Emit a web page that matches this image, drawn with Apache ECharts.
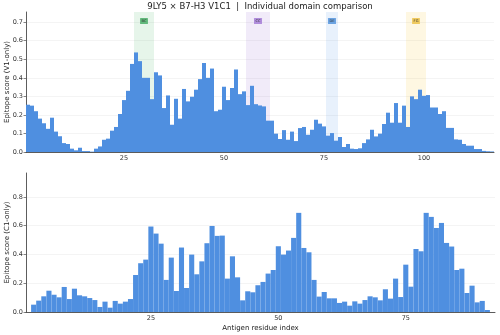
<!DOCTYPE html>
<html>
<head>
<meta charset="utf-8">
<script src="https://cdn.jsdelivr.net/npm/echarts@6/dist/echarts.min.js"></script>
<style>
  html, body { margin: 0; padding: 0; background: #fff; }
  #main { width: 500px; height: 335px; }
</style>
</head>
<body>
<div id="main"></div>
<script>
// V1-only scores, residues 1..117
var v1Scores = [
  0.255, 0.25, 0.22, 0.18, 0.155, 0.125, 0.185, 0.11, 0.085, 0.048,
  0.043, 0.018, 0.009, 0.023, 0.005, 0.005, 0.002, 0.018, 0.03, 0.066,
  0.072, 0.115, 0.135, 0.205, 0.28, 0.33, 0.475, 0.537, 0.49, 0.40,
  0.40, 0.285, 0.43, 0.413, 0.237, 0.305, 0.147, 0.287, 0.18, 0.34,
  0.273, 0.298, 0.336, 0.393, 0.48, 0.40, 0.45, 0.22, 0.228, 0.352,
  0.28, 0.345, 0.445, 0.312, 0.327, 0.253, 0.357, 0.258, 0.251, 0.246,
  0.169, 0.169, 0.099, 0.07, 0.118, 0.066, 0.11, 0.059, 0.129, 0.135,
  0.093, 0.12, 0.174, 0.153, 0.138, 0.088, 0.102, 0.061, 0.081, 0.027,
  0.043, 0.018, 0.016, 0.02, 0.048, 0.068, 0.12, 0.084, 0.099, 0.151,
  0.212, 0.158, 0.264, 0.158, 0.25, 0.135, 0.30, 0.285, 0.336, 0.303,
  0.307, 0.24, 0.24, 0.205, 0.22, 0.13, 0.13, 0.068, 0.066, 0.043,
  0.034, 0.034, 0.016, 0.016, 0.006, 0.004, 0.003
];

// C1-only scores, residues 1..92
var c1Scores = [
  0, 0.051, 0.079, 0.109, 0.148, 0.12, 0.102, 0.174, 0.09, 0.162,
  0.116, 0.109, 0.097, 0.083, 0.035, 0.072, 0.03, 0.077, 0.058, 0.072,
  0.09, 0.257, 0.339, 0.364, 0.594, 0.545, 0.475, 0.223, 0.378, 0.146,
  0.448, 0.167, 0.399, 0.262, 0.352, 0.478, 0.598, 0.529, 0.531, 0.232,
  0.387, 0.241, 0.081, 0.144, 0.137, 0.186, 0.209, 0.267, 0.292, 0.457,
  0.399, 0.427, 0.515, 0.689, 0.445, 0.415, 0.223, 0.107, 0.139, 0.095,
  0.095, 0.063, 0.072, 0.044, 0.074, 0.058, 0.083, 0.109, 0.102, 0.081,
  0.158, 0.093, 0.232, 0.104, 0.329, 0.176, 0.438, 0.422, 0.689, 0.661,
  0.584, 0.619, 0.48, 0.455, 0.292, 0.301, 0.132, 0.183, 0.067, 0.077,
  0.014, 0
];

// loop regions (start, end residue) shaded on the V1 panel
var loopNames = ['BC', 'CC', 'DE', 'FG'];
var loopStart = [28, 56, 76, 96];
var loopEnd = [32, 61, 78, 100];
var loopFill = ['rgba(60,180,90,0.13)', 'rgba(150,100,210,0.13)', 'rgba(80,150,230,0.13)', 'rgba(245,200,60,0.15)'];
var loopTag = ['#62b97c', '#b08ddc', '#6ba3e2', '#f0ca5e'];

var v1Res = v1Scores.map(function(_, i){ return String(i + 1); });
var c1Res = c1Scores.map(function(_, i){ return String(i + 1); });

var barColor = '#4f8fe0';
var font = 'DejaVu Sans';
var axisCol = '#333';

function catAxis(grid, cats, showName){
  return {
    type: 'category', gridIndex: grid, data: cats,
    boundaryGap: true,
    axisLine: { lineStyle: { color: axisCol, width: 0.8 } },
    axisTick: {
      alignWithLabel: true, length: 2.5,
      interval: function(i, v){ return (+v) % 5 === 0; },
      lineStyle: { color: axisCol, width: 0.6 }
    },
    axisLabel: {
      interval: function(i, v){ return (+v) % 25 === 0; },
      fontSize: 6.5, color: '#333', fontFamily: font, margin: 3
    },
    name: showName ? 'Antigen residue index' : '',
    nameLocation: 'middle', nameGap: 13, nameMoveOverlap: false,
    nameTextStyle: { fontSize: 7, color: '#222', fontFamily: font }
  };
}

function valAxis(grid, max, step, title){
  return {
    type: 'value', gridIndex: grid, min: 0, max: max, interval: step,
    axisLine: { show: true, lineStyle: { color: axisCol, width: 0.8 } },
    axisTick: { show: true, length: 2.5, lineStyle: { color: axisCol, width: 0.6 } },
    axisLabel: {
      fontSize: 6.5, color: '#333', fontFamily: font, margin: 3,
      showMaxLabel: false,
      formatter: function(v){ return v.toFixed(1); }
    },
    splitLine: { show: true, showMaxLine: false, lineStyle: { color: '#ececec', width: 0.6 } },
    name: title, nameLocation: 'middle', nameGap: 15, nameMoveOverlap: false,
    nameTextStyle: { fontSize: 7, color: '#222', fontFamily: font }
  };
}

var spanData = loopNames.map(function(n, i){
  return [{
    xAxis: loopStart[i] - 0.5,
    itemStyle: { color: loopFill[i] },
    label: {
      show: true, position: 'insideTop', distance: 6,
      formatter: n, fontSize: 3.6, color: '#333', fontFamily: font,
      backgroundColor: loopTag[i], padding: [1, 1.5],
      borderRadius: 0.5
    }
  }, { xAxis: loopEnd[i] + 0.5 }];
});

var chart = echarts.init(document.getElementById('main'), null, { renderer: 'canvas' });
chart.setOption({
  animation: false,
  backgroundColor: '#fff',
  title: {
    text: '9LY5 × B7-H3 V1C1  |  Individual domain comparison',
    left: 260, top: 2, padding: 0, textAlign: 'center',
    textStyle: { fontSize: 8.5, fontWeight: 'normal', color: '#222', fontFamily: font }
  },
  grid: [
    { left: 26, right: 6, top: 12, height: 140, containLabel: false, outerBoundsMode: 'none' },
    { left: 26, right: 5, top: 173, height: 139, containLabel: false, outerBoundsMode: 'none' }
  ],
  xAxis: [
    catAxis(0, v1Res, false),
    catAxis(1, c1Res, true),
    { type: 'value', gridIndex: 0, min: 0.5, max: v1Scores.length + 0.5, show: false }
  ],
  yAxis: [
    valAxis(0, 0.755, 0.1, 'Epitope score (V1-only)'),
    valAxis(1, 0.966, 0.2, 'Epitope score (C1-only)')
  ],
  series: [
    {
      type: 'line', xAxisIndex: 2, yAxisIndex: 0, data: [], z: 1,
      markArea: { silent: true, data: spanData }
    },
    {
      type: 'bar', xAxisIndex: 0, yAxisIndex: 0, data: v1Scores, z: 3,
      barCategoryGap: '0%',
      itemStyle: { color: barColor }
    },
    {
      type: 'bar', xAxisIndex: 1, yAxisIndex: 1, data: c1Scores, z: 3,
      barCategoryGap: '0%',
      itemStyle: { color: barColor }
    }
  ]
});
</script>
</body>
</html>
